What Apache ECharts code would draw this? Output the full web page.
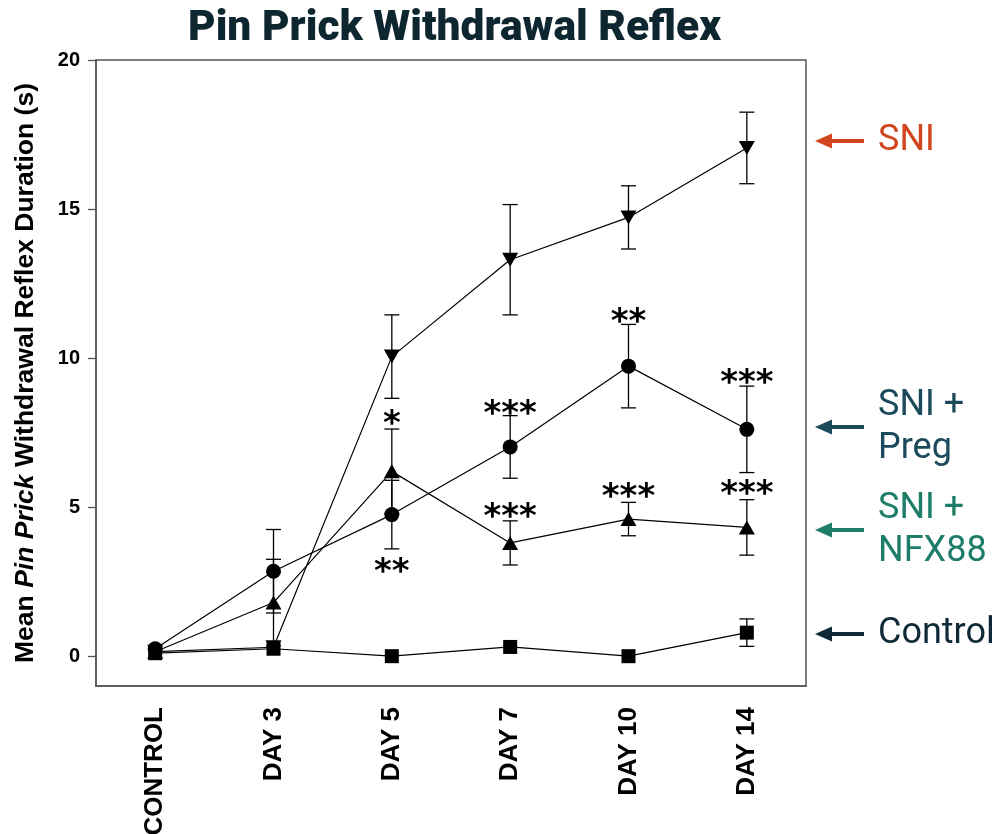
<!DOCTYPE html>
<html>
<head>
<meta charset="utf-8">
<script src="https://cdn.jsdelivr.net/npm/echarts@6/dist/echarts.min.js"></script>
<style>
  html, body { margin: 0; padding: 0; background: #fff; }
  #chart { width: 1004px; height: 834px; }
</style>
</head>
<body>
<div id="chart"></div>
<script>
// Time points of the pin prick test
const categories = ['CONTROL', 'DAY 3', 'DAY 5', 'DAY 7', 'DAY 10', 'DAY 14'];

// Mean withdrawal duration (s) per group
const sniMean     = [0.15, 0.3, 10.05, 13.3, 14.72, 17.05];
const pregMean    = [0.25, 2.85, 4.75, 7.02, 9.73, 7.61];
const nfx88Mean   = [0.15, 1.8, 6.2, 3.8, 4.6, 4.32];
const controlMean = [0.1, 0.25, 0.0, 0.31, 0.0, 0.79];

// Error (± SEM) per group
const sniErr     = [0, 0, 1.4, 1.85, 1.06, 1.2];
const pregErr    = [0, 1.4, 1.15, 1.05, 1.4, 1.45];
const nfx88Err   = [0, 1.45, 1.42, 0.74, 0.56, 0.93];
const controlErr = [0, 0, 0, 0, 0, 0.46];

// Significance marks
const starCats   = ['DAY 5', 'DAY 5', 'DAY 7', 'DAY 7', 'DAY 10', 'DAY 10', 'DAY 14', 'DAY 14'];
const starValues = [8.04, 3.08, 8.38, 4.92, 11.49, 5.59, 9.44, 5.70];
const starTexts  = ['*', '**', '***', '***', '**', '***', '***', '***'];

// Y ticks
const yTicks = [0, 5, 10, 15, 20];

const INK = '#000';
const FRAME = '#555';

function lineSeries(name, data, symbol, rotate) {
  return {
    name: name,
    type: 'line',
    data: data,
    symbol: symbol,
    symbolSize: symbol === 'rect' ? 14 : (symbol === 'circle' ? 15 : [16, 14]),
    symbolRotate: rotate || 0,
    showSymbol: true,
    lineStyle: { color: INK, width: 1.2 },
    itemStyle: { color: INK },
    z: 3
  };
}

function errorSeries(mean, err) {
  const data = mean.map((m, i) => [i, m, err[i]]);
  return {
    type: 'custom',
    data: data,
    z: 2,
    silent: true,
    renderItem: function (params, api) {
      const e = api.value(2);
      if (!e) return null;
      const i = api.value(0);
      const m = api.value(1);
      const hi = api.coord([i, m + e]);
      const lo = api.coord([i, m - e]);
      const hw = 7.5;
      const style = { stroke: INK, lineWidth: 1.3 };
      return {
        type: 'group',
        children: [
          { type: 'line', shape: { x1: hi[0], y1: hi[1], x2: lo[0], y2: lo[1] }, style: style },
          { type: 'line', shape: { x1: hi[0] - hw, y1: hi[1], x2: hi[0] + hw, y2: hi[1] }, style: style },
          { type: 'line', shape: { x1: lo[0] - hw, y1: lo[1], x2: lo[0] + hw, y2: lo[1] }, style: style }
        ]
      };
    }
  };
}

// Group labels on the right with leftward arrows
function groupLabel(y, text, color) {
  return {
    type: 'group',
    children: [
      { type: 'line', shape: { x1: 828, y1: y, x2: 864, y2: y }, style: { stroke: color, lineWidth: 4 } },
      { type: 'polygon', shape: { points: [[815, y], [832, y - 7.5], [832, y + 7.5]] }, style: { fill: color } },
      {
        type: 'text', x: 878, y: y,
        style: {
          text: text, fill: color, font: '400 36px Roboto',
          verticalAlign: 'middle', align: 'left', lineHeight: 43
        }
      }
    ]
  };
}

const chart = echarts.init(document.getElementById('chart'), null, { renderer: 'canvas' });

chart.setOption({
  animation: false,
  backgroundColor: '#fff',
  title: {
    text: 'Pin Prick Withdrawal Reflex',
    left: 188,
    top: 8,
    padding: 0,
    textStyle: { fontFamily: 'Roboto', fontWeight: 900, fontSize: 42.5, color: '#0e2630' }
  },
  grid: {
    left: 96, right: 198, top: 60, bottom: 148,
    outerBoundsMode: 'none',
    containLabel: false,
    show: true, borderColor: FRAME, borderWidth: 1.5, backgroundColor: 'transparent'
  },
  xAxis: {
    type: 'category',
    data: categories,
    boundaryGap: true,
    axisLine: { onZero: false, lineStyle: { color: FRAME, width: 1.5 } },
    axisTick: { alignWithLabel: true, length: 8, lineStyle: { color: FRAME, width: 1.3 } },
    axisLabel: {
      rotate: 90, margin: 21, color: INK,
      fontFamily: 'Liberation Sans', fontWeight: 'bold', fontSize: 26
    },
    splitLine: { show: false }
  },
  yAxis: {
    type: 'value',
    min: -1, max: 20,
    axisLine: { show: true, lineStyle: { color: FRAME, width: 1.5 } },
    axisTick: { show: true, length: 8, customValues: yTicks, lineStyle: { color: FRAME, width: 1.3 } },
    axisLabel: {
      customValues: yTicks, margin: 16, color: INK,
      fontFamily: 'Liberation Sans', fontWeight: 'bold', fontSize: 20
    },
    splitLine: { show: false },
    name: '{a|Mean }{b|Pin Prick}{a| Withdrawal Reflex Duration (s)}',
    nameLocation: 'middle',
    nameRotate: 90,
    nameGap: 57,
    nameTextStyle: {
      rich: {
        a: { fontFamily: 'Liberation Sans', fontWeight: 'bold', fontSize: 26.5, color: INK },
        b: { fontFamily: 'Liberation Sans', fontWeight: 'bold', fontStyle: 'italic', fontSize: 26.5, color: INK }
      }
    }
  },
  graphic: [
    groupLabel(141, 'SNI', '#d1461f'),
    groupLabel(427, 'SNI +\nPreg', '#1b4a5c'),
    groupLabel(530, 'SNI +\nNFX88', '#1d7d69'),
    groupLabel(634, 'Control', '#0f2a36')
  ],
  series: [
    errorSeries(sniMean, sniErr),
    errorSeries(pregMean, pregErr),
    errorSeries(nfx88Mean, nfx88Err),
    errorSeries(controlMean, controlErr),
    lineSeries('SNI', sniMean, 'triangle', 180),
    lineSeries('SNI + Preg', pregMean, 'circle'),
    lineSeries('SNI + NFX88', nfx88Mean, 'triangle'),
    lineSeries('Control', controlMean, 'rect'),
    {
      type: 'scatter',
      silent: true,
      symbolSize: 0,
      itemStyle: { opacity: 1, color: INK },
      data: starCats.map((c, i) => [c, starValues[i], starTexts[i]]),
      label: {
        show: true,
        position: 'inside',
        offset: [0, 9],
        formatter: p => p.data[2],
        fontFamily: 'DejaVu Sans',
        fontWeight: 'bold',
        fontSize: 34,
        color: INK,
        opacity: 1,
        textBorderWidth: 0,
        textBorderColor: 'transparent'
      },
      z: 4
    }
  ]
});
</script>
</body>
</html>
